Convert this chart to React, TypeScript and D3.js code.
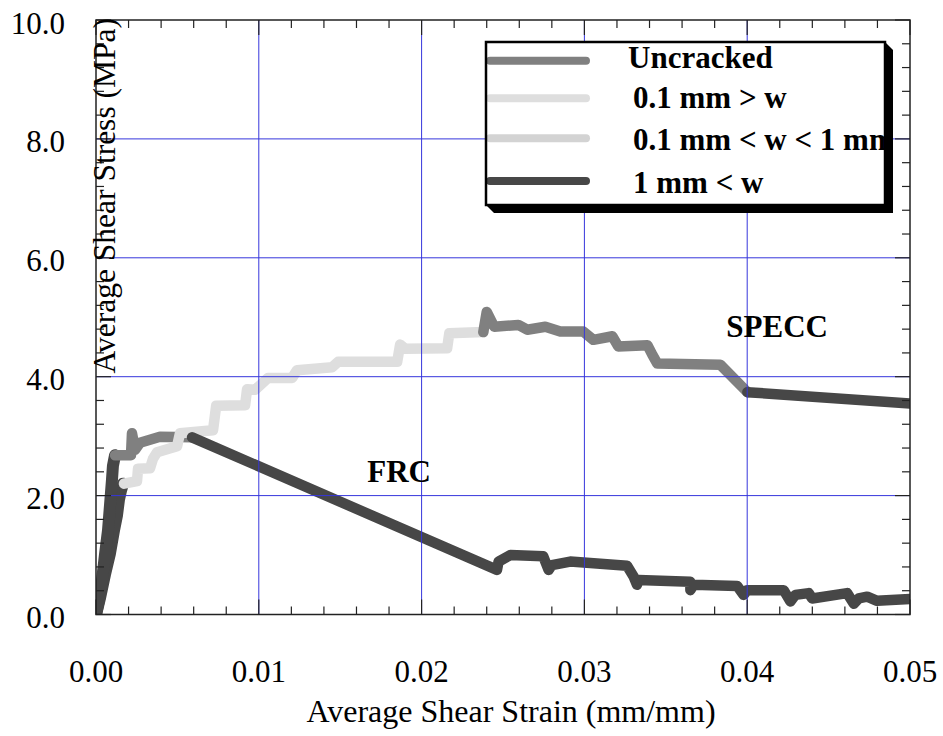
import React from 'react';
import * as d3 from 'd3';

const W = 943;
const H = 736;

// Axis ticks
const xTickValues = [0, 0.01, 0.02, 0.03, 0.04, 0.05];
const xTickLabels = ['0.00', '0.01', '0.02', '0.03', '0.04', '0.05'];
const yTickValues = [0, 2, 4, 6, 8, 10];
const yTickLabels = ['0.0', '2.0', '4.0', '6.0', '8.0', '10.0'];

// Crack states (legend)
const legendLabels = ['Uncracked', '0.1 mm > w', '0.1 mm < w < 1 mm', '1 mm < w'];
const stateColors = ['#808080', '#dedede', '#d3d3d3', '#474747'];

// [strain (mm/mm), stress (MPa)]
const frcRise: [number, number][] = [
  [0, 0], [0.00018, 0.24], [0.00037, 0.58], [0.00055, 1.0], [0.00074, 1.42],
  [0.00086, 1.84], [0.00098, 2.26], [0.00104, 2.5], [0.00117, 2.68],
];
const frcUncracked: [number, number][] = [
  [0.00117, 2.68], [0.00215, 2.68], [0.00221, 3.05], [0.0024, 2.77], [0.0027, 2.89],
  [0.00393, 2.99], [0.0059, 2.98],
];
const frcWide: [number, number][] = [
  [0.0059, 2.98], [0.02463, 0.75], [0.02473, 0.89], [0.02545, 1.0], [0.02747, 0.98],
  [0.0278, 0.75], [0.028, 0.83], [0.02913, 0.89], [0.03262, 0.82], [0.03302, 0.64],
  [0.03323, 0.5], [0.03333, 0.58], [0.03651, 0.55], [0.03651, 0.41], [0.03671, 0.5],
  [0.03938, 0.48], [0.03978, 0.33], [0.03999, 0.41], [0.04224, 0.41], [0.04265, 0.22],
  [0.04296, 0.33], [0.04378, 0.36], [0.04399, 0.27], [0.04614, 0.36], [0.04655, 0.18],
  [0.04685, 0.27], [0.04737, 0.3], [0.04798, 0.23], [0.05, 0.26],
];
const speccRise: [number, number][] = [
  [0, 0], [0.00025, 0.28], [0.00055, 0.67], [0.00086, 1.03], [0.00111, 1.42],
  [0.00129, 1.67], [0.00141, 1.93], [0.00154, 2.09], [0.00166, 2.2], [0.00172, 2.2],
];
const speccFine: [number, number][] = [
  [0.00172, 2.2], [0.00252, 2.245], [0.00258, 2.45], [0.00332, 2.46], [0.0035, 2.62],
  [0.00375, 2.73], [0.00498, 2.83], [0.00516, 3.05], [0.00719, 3.1], [0.00738, 3.51],
  [0.00916, 3.52], [0.00928, 3.79], [0.00977, 3.78], [0.01057, 3.98], [0.01205, 3.98],
  [0.01235, 4.11], [0.01451, 4.16], [0.01487, 4.25], [0.0185, 4.25], [0.01868, 4.54],
  [0.01899, 4.47], [0.02157, 4.48], [0.0217, 4.73], [0.02379, 4.75],
];
const speccUncracked: [number, number][] = [
  [0.02379, 4.75], [0.024, 5.09], [0.02446, 4.84], [0.02594, 4.87], [0.02649, 4.79],
  [0.0276, 4.84], [0.02852, 4.76], [0.02993, 4.76], [0.03055, 4.62], [0.03172, 4.68],
  [0.03208, 4.51], [0.03387, 4.53], [0.03417, 4.37], [0.03448, 4.22], [0.03835, 4.2],
  [0.04001, 3.74],
];
const speccWide: [number, number][] = [
  [0.04001, 3.74], [0.05, 3.55],
];

// drawing order with crack-state index
const segments: { pts: [number, number][]; state: number }[] = [
  { pts: speccRise, state: 3 },
  { pts: frcRise, state: 3 },
  { pts: frcUncracked, state: 0 },
  { pts: speccFine, state: 1 },
  { pts: speccUncracked, state: 0 },
  { pts: speccWide, state: 3 },
  { pts: frcWide, state: 3 },
];

const annotations = [
  { text: 'SPECC', strain: 0.03872, stress: 4.668 },
  { text: 'FRC', strain: 0.01666, stress: 2.229 },
];

const FONT = "'Liberation Serif', 'Times New Roman', Times, serif";

export default function App() {
  const left = 96, right = 910, top = 20, bottom = 614.5;
  const x = d3.scaleLinear().domain([0, 0.05]).range([left, right]);
  const y = d3.scaleLinear().domain([0, 10]).range([bottom, top]);
  const line = d3.line<[number, number]>().x(d => x(d[0])).y(d => y(d[1]));

  const xMinor = d3.range(0, 0.0501, 0.002).filter(v => !xTickValues.some(t => Math.abs(t - v) < 1e-6));
  const yMinor = d3.range(0, 10.01, 0.4).filter(v => !yTickValues.some(t => Math.abs(t - v) < 1e-6));

  const grid = '#3636dc';
  const axisCol = '#222';
  const major = 15, minor = 8;

  const legendY = [60.7, 98.3, 138.3, 181];
  const legendTextX = [628, 633, 633, 633];
  const legendTextY = [68.3, 108.3, 150, 193.3];

  return (
    <svg width={W} height={H} style={{ position: 'absolute', left: 0, top: 0, background: '#fff' }} fontFamily={FONT}>
      <defs>
        <clipPath id="plotClip">
          <rect x={left} y={top} width={right - left} height={bottom - top} />
        </clipPath>
        <clipPath id="legClip">
          <rect x={486} y={42} width={398} height={163} />
        </clipPath>
      </defs>
      <rect x={0} y={0} width={W} height={H} fill="#fff" />

      {/* curves */}
      <g clipPath="url(#plotClip)">
        {segments.map((s, i) => (
          <path key={i} d={line(s.pts) || ''} fill="none" stroke={stateColors[s.state]}
            strokeWidth={s.pts === speccRise || s.pts === frcRise ? 12 : 10.5}
            strokeLinecap="round" strokeLinejoin="round" />
        ))}
      </g>

      {/* grid */}
      <g>
        {xTickValues.slice(1, -1).map(v => (
          <line key={'gx' + v} x1={x(v)} x2={x(v)} y1={top} y2={bottom} stroke={grid} strokeWidth={1} />
        ))}
        {yTickValues.slice(1, -1).map(v => (
          <line key={'gy' + v} x1={left} x2={right} y1={y(v)} y2={y(v)} stroke={grid} strokeWidth={1} />
        ))}
      </g>

      {/* frame */}
      <rect x={left} y={top} width={right - left} height={bottom - top} fill="none" stroke={axisCol} strokeWidth={1.5} />

      {/* ticks */}
      <g stroke={axisCol} strokeWidth={1.2}>
        {xTickValues.map(v => (
          <g key={'xt' + v}>
            <line x1={x(v)} x2={x(v)} y1={bottom} y2={bottom - major} />
            <line x1={x(v)} x2={x(v)} y1={top} y2={top + major} />
          </g>
        ))}
        {xMinor.map(v => (
          <g key={'xm' + v}>
            <line x1={x(v)} x2={x(v)} y1={bottom} y2={bottom - minor} />
            <line x1={x(v)} x2={x(v)} y1={top} y2={top + minor} />
          </g>
        ))}
        {yTickValues.map(v => (
          <g key={'yt' + v}>
            <line x1={left} x2={left + major} y1={y(v)} y2={y(v)} />
            <line x1={right} x2={right - major} y1={y(v)} y2={y(v)} />
          </g>
        ))}
        {yMinor.map(v => (
          <g key={'ym' + v}>
            <line x1={left} x2={left + minor} y1={y(v)} y2={y(v)} />
            <line x1={right} x2={right - minor} y1={y(v)} y2={y(v)} />
          </g>
        ))}
      </g>

      {/* tick labels */}
      <g fontSize={31} fill="#000">
        {xTickValues.map((v, i) => (
          <text key={'xl' + v} x={x(v)} y={682} textAnchor="middle">{xTickLabels[i]}</text>
        ))}
        {yTickValues.map((v, i) => (
          <text key={'yl' + v} x={65} y={y(v) + 13.5} textAnchor="end">{yTickLabels[i]}</text>
        ))}
      </g>

      {/* axis titles */}
      <text x={511} y={722} fontSize={32} textAnchor="middle">Average Shear Strain (mm/mm)</text>
      <text transform="translate(115,18) rotate(-90)" fontSize={31.5} textAnchor="end">Average Shear Stress (MPa)</text>

      {/* annotations */}
      {annotations.map(a => (
        <text key={a.text} x={x(a.strain)} y={y(a.stress)} fontSize={31} fontWeight="bold">{a.text}</text>
      ))}

      {/* legend */}
      <polygon points="885,42 893,50 893,213 494,213 486,205" fill="#000" />
      <rect x={486} y={42} width={399} height={163} fill="#fff" />
      <g>
        {legendLabels.map((lab, i) => (
          <line key={'ll' + i} x1={490} x2={586} y1={legendY[i]} y2={legendY[i]}
            stroke={stateColors[i]} strokeWidth={8} strokeLinecap="round" />
        ))}
      </g>
      <g clipPath="url(#legClip)" fontSize={31} fontWeight="bold">
        {legendLabels.map((lab, i) => (
          <text key={'lt' + i} x={legendTextX[i]} y={legendTextY[i]}>{lab}</text>
        ))}
      </g>
      <rect x={486} y={42} width={399} height={163} fill="none" stroke="#000" strokeWidth={2.5} />
    </svg>
  );
}
